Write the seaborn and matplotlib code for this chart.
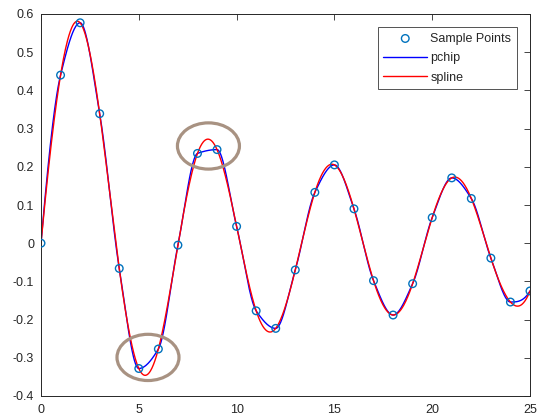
import numpy as np
import pandas as pd
import matplotlib
matplotlib.use("Agg")
import matplotlib.pyplot as plt
from matplotlib.patches import Ellipse
import seaborn as sns

# sample points
x_pts = list(range(26))
y_pts = [0.0, 0.440, 0.577, 0.339, -0.066, -0.328, -0.277, -0.005, 0.235, 0.245,
         0.044, -0.177, -0.223, -0.070, 0.133, 0.205, 0.090, -0.098, -0.188, -0.106,
         0.067, 0.171, 0.117, -0.039, -0.154, -0.125]

x_ticks = [0, 5, 10, 15, 20, 25]
y_ticks = [-0.4, -0.3, -0.2, -0.1, 0, 0.1, 0.2, 0.3, 0.4, 0.5, 0.6]


def spline_nak(x, y, xq):
    # cubic spline, not-a-knot ends (like matlab spline)
    x = np.asarray(x, float); y = np.asarray(y, float)
    n = len(x); h = np.diff(x); d = np.diff(y) / h
    A = np.zeros((n, n)); r = np.zeros(n)
    A[0, 0], A[0, 1], A[0, 2] = h[1], -(h[0] + h[1]), h[0]
    A[-1, -3], A[-1, -2], A[-1, -1] = h[-1], -(h[-2] + h[-1]), h[-2]
    for i in range(1, n - 1):
        A[i, i - 1] = h[i - 1]; A[i, i] = 2 * (h[i - 1] + h[i]); A[i, i + 1] = h[i]
        r[i] = 6 * (d[i] - d[i - 1])
    M = np.linalg.solve(A, r)
    k = np.clip(np.searchsorted(x, xq) - 1, 0, n - 2)
    t = xq - x[k]
    b = d[k] - h[k] * (2 * M[k] + M[k + 1]) / 6
    return y[k] + b * t + M[k] / 2 * t**2 + (M[k + 1] - M[k]) / (6 * h[k]) * t**3


def pchip(x, y, xq):
    x = np.asarray(x, float); y = np.asarray(y, float)
    n = len(x); h = np.diff(x); d = np.diff(y) / h
    m = np.zeros(n)
    for k in range(1, n - 1):
        if d[k - 1] * d[k] > 0:
            w1 = 2 * h[k] + h[k - 1]; w2 = h[k] + 2 * h[k - 1]
            m[k] = (w1 + w2) / (w1 / d[k - 1] + w2 / d[k])

    def end(h0, h1, d0, d1):
        s = ((2 * h0 + h1) * d0 - h0 * d1) / (h0 + h1)
        if np.sign(s) != np.sign(d0):
            s = 0.0
        elif np.sign(d0) != np.sign(d1) and abs(s) > abs(3 * d0):
            s = 3 * d0
        return s
    m[0] = end(h[0], h[1], d[0], d[1])
    m[-1] = end(h[-1], h[-2], d[-1], d[-2])
    k = np.clip(np.searchsorted(x, xq) - 1, 0, n - 2)
    s = (xq - x[k]) / h[k]
    h00 = 2 * s**3 - 3 * s**2 + 1; h10 = s**3 - 2 * s**2 + s
    h01 = -2 * s**3 + 3 * s**2; h11 = s**3 - s**2
    return h00 * y[k] + h10 * h[k] * m[k] + h01 * y[k + 1] + h11 * h[k] * m[k + 1]


xq = np.linspace(0, 25, 1001)
curves = pd.DataFrame({"x": xq, "pchip": pchip(x_pts, y_pts, xq),
                       "spline": spline_nak(x_pts, y_pts, xq)})
pts = pd.DataFrame({"x": x_pts, "y": y_pts})

sns.set_style("white")
plt.rcParams["font.family"] = ["Liberation Sans", "DejaVu Sans"]

fig = plt.figure(figsize=(5.41, 4.2), dpi=100)
ax = fig.add_axes([41 / 541, 24 / 420, 489 / 541, 382 / 420])

sns.scatterplot(data=pts, x="x", y="y", ax=ax, marker="o", s=30,
                facecolors="none", edgecolor="#0072BD", linewidth=1.0,
                label="Sample Points", zorder=3)
sns.lineplot(data=curves, x="x", y="pchip", ax=ax, color="blue", lw=1.0,
             label="pchip", sort=False)
sns.lineplot(data=curves, x="x", y="spline", ax=ax, color="red", lw=1.0,
             label="spline", sort=False)

# highlight circles
for cx, cy in [(5.47, -0.299), (8.56, 0.2545)]:
    ax.add_patch(Ellipse((cx, cy), 3.17, 0.121, fill=False,
                         edgecolor="#A89282", lw=2.3, zorder=5))

ax.set_xlim(0, 25)
ax.set_ylim(-0.4, 0.6)
ax.set_xticks(x_ticks)
ax.set_yticks(y_ticks)
ax.set_yticklabels(["-0.4", "-0.3", "-0.2", "-0.1", "0", "0.1", "0.2", "0.3",
                    "0.4", "0.5", "0.6"])
ax.set_xlabel("")
ax.set_ylabel("")
ax.tick_params(direction="in", length=4, width=0.6, labelsize=9,
               top=True, right=True, colors="#262626", labelcolor="#262626")
ax.tick_params(axis="x", pad=6)
ax.tick_params(axis="y", pad=5)
for sp in ax.spines.values():
    sp.set_visible(True)
    sp.set_color("#262626")
    sp.set_linewidth(0.7)

leg = ax.legend(loc="upper right", fontsize=9, frameon=True, fancybox=False,
                borderaxespad=1.05, handlelength=3.5, handletextpad=0.25,
                labelspacing=0.6, borderpad=0.45)
leg.get_frame().set_edgecolor("#262626")
leg.get_frame().set_linewidth(0.7)

fig.savefig("out.png", dpi=100)
